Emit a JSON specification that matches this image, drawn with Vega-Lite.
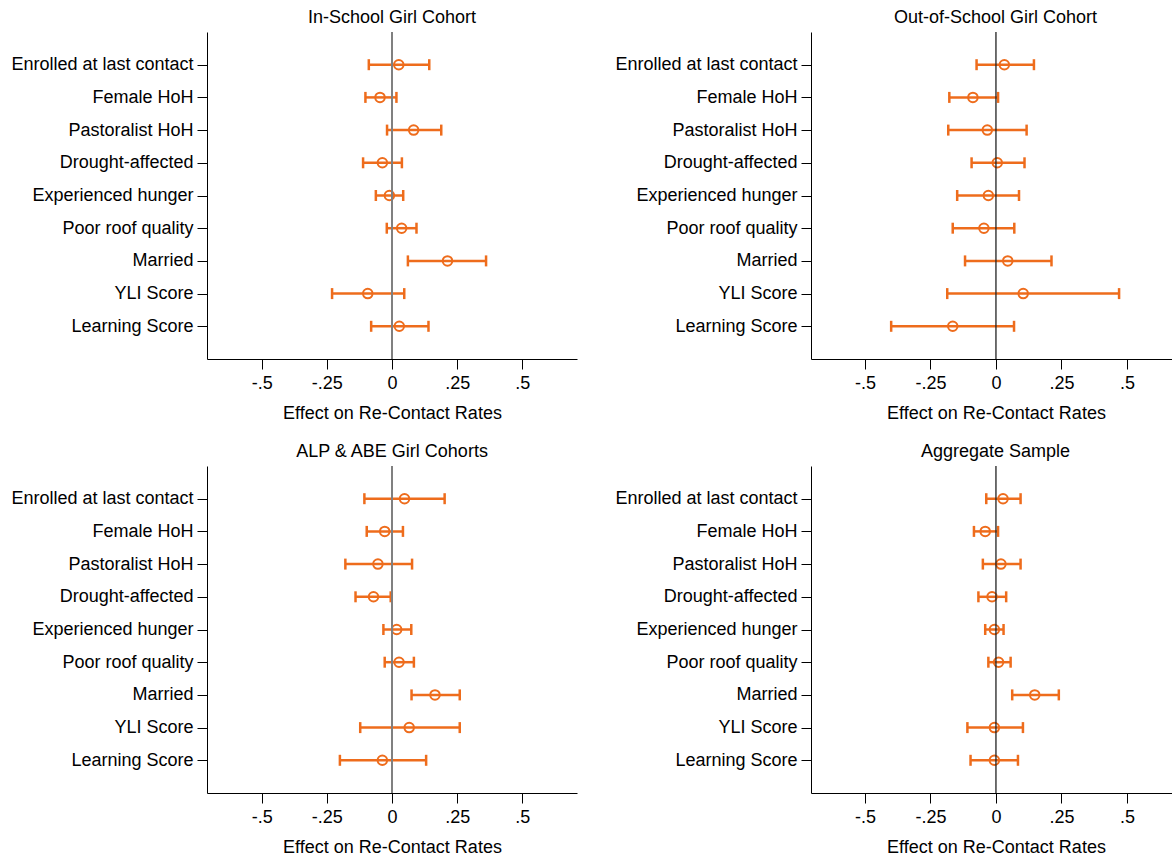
{
  "$schema": "https://vega.github.io/schema/vega-lite/v6.json",
  "background": "white",
  "padding": {"left": 10, "top": 9, "right": 0, "bottom": 0},
  "autosize": {"type": "pad"},
  "config": {
    "view": {"stroke": null},
    "font": "Liberation Sans",
    "axis": {
      "grid": false,
      "domainColor": "#000",
      "domainWidth": 1,
      "tickColor": "#000",
      "tickWidth": 1,
      "tickSize": 10,
      "labelFont": "Liberation Sans",
      "labelFontSize": 18,
      "labelColor": "#000",
      "labelLimit": 0,
      "titleFont": "Liberation Sans",
      "titleFontSize": 18,
      "titleFontWeight": "normal",
      "titleColor": "#000"
    },
    "axisX": {"labelPadding": 5, "titlePadding": 12},
    "axisY": {"labelPadding": 4},
    "title": {
      "font": "Liberation Sans",
      "fontSize": 18,
      "fontWeight": "normal",
      "color": "#000",
      "offset": 4,
      "baseline": "alphabetic",
      "anchor": "middle"
    }
  },
  "datasets": {
    "p1": [
      {"var": "Enrolled at last contact", "lo": -0.089, "est": 0.026, "hi": 0.143},
      {"var": "Female HoH", "lo": -0.102, "est": -0.046, "hi": 0.017},
      {"var": "Pastoralist HoH", "lo": -0.019, "est": 0.083, "hi": 0.189},
      {"var": "Drought-affected", "lo": -0.111, "est": -0.037, "hi": 0.038},
      {"var": "Experienced hunger", "lo": -0.062, "est": -0.010, "hi": 0.043},
      {"var": "Poor roof quality", "lo": -0.020, "est": 0.037, "hi": 0.094},
      {"var": "Married", "lo": 0.061, "est": 0.213, "hi": 0.361},
      {"var": "YLI Score", "lo": -0.230, "est": -0.093, "hi": 0.047},
      {"var": "Learning Score", "lo": -0.080, "est": 0.028, "hi": 0.140}
    ],
    "p2": [
      {"var": "Enrolled at last contact", "lo": -0.074, "est": 0.032, "hi": 0.145},
      {"var": "Female HoH", "lo": -0.178, "est": -0.088, "hi": 0.008},
      {"var": "Pastoralist HoH", "lo": -0.182, "est": -0.033, "hi": 0.117},
      {"var": "Drought-affected", "lo": -0.093, "est": 0.005, "hi": 0.109},
      {"var": "Experienced hunger", "lo": -0.148, "est": -0.029, "hi": 0.088},
      {"var": "Poor roof quality", "lo": -0.165, "est": -0.046, "hi": 0.070},
      {"var": "Married", "lo": -0.118, "est": 0.045, "hi": 0.212},
      {"var": "YLI Score", "lo": -0.186, "est": 0.104, "hi": 0.47},
      {"var": "Learning Score", "lo": -0.400, "est": -0.165, "hi": 0.069}
    ],
    "p3": [
      {"var": "Enrolled at last contact", "lo": -0.106, "est": 0.048, "hi": 0.202},
      {"var": "Female HoH", "lo": -0.097, "est": -0.028, "hi": 0.042},
      {"var": "Pastoralist HoH", "lo": -0.179, "est": -0.054, "hi": 0.077},
      {"var": "Drought-affected", "lo": -0.140, "est": -0.071, "hi": -0.005},
      {"var": "Experienced hunger", "lo": -0.033, "est": 0.018, "hi": 0.074},
      {"var": "Poor roof quality", "lo": -0.028, "est": 0.027, "hi": 0.084},
      {"var": "Married", "lo": 0.075, "est": 0.165, "hi": 0.260},
      {"var": "YLI Score", "lo": -0.122, "est": 0.066, "hi": 0.260},
      {"var": "Learning Score", "lo": -0.200, "est": -0.037, "hi": 0.131}
    ],
    "p4": [
      {"var": "Enrolled at last contact", "lo": -0.037, "est": 0.027, "hi": 0.094},
      {"var": "Female HoH", "lo": -0.084, "est": -0.041, "hi": 0.008},
      {"var": "Pastoralist HoH", "lo": -0.050, "est": 0.019, "hi": 0.094},
      {"var": "Drought-affected", "lo": -0.067, "est": -0.015, "hi": 0.039},
      {"var": "Experienced hunger", "lo": -0.041, "est": -0.006, "hi": 0.029},
      {"var": "Poor roof quality", "lo": -0.029, "est": 0.010, "hi": 0.056},
      {"var": "Married", "lo": 0.062, "est": 0.148, "hi": 0.240},
      {"var": "YLI Score", "lo": -0.109, "est": -0.006, "hi": 0.103},
      {"var": "Learning Score", "lo": -0.097, "est": -0.006, "hi": 0.084}
    ]
  },
  "columns": 2,
  "bounds": "flush",
  "spacing": {"row": 107, "column": 234},
  "concat": [
    {
      "width": 370, "height": 327,
      "title": {"text": "In-School Girl Cohort"},
      "layer": [
        {
          "data": {"name": "p1"},
          "encoding": {
            "y": {"field": "var", "type": "nominal", "sort": ["Enrolled at last contact","Female HoH","Pastoralist HoH","Drought-affected","Experienced hunger","Poor roof quality","Married","YLI Score","Learning Score"], "scale": {"type": "point", "padding": 1}, "axis": {"title": null}}
          },
          "layer": [
            {"mark": {"type": "rule", "strokeWidth": 2.5, "color": "#EE6C1C"},
             "encoding": {"x": {"field": "lo", "type": "quantitative", "title": "Effect on Re-Contact Rates", "scale": {"domain": [-0.71, 0.71], "nice": false, "zero": false}, "axis": {"values": [-0.5, -0.25, 0, 0.25, 0.5], "labelExpr": "datum.value == -0.5 ? '-.5' : datum.value == -0.25 ? '-.25' : datum.value == 0 ? '0' : datum.value == 0.25 ? '.25' : '.5'"}}, "x2": {"field": "hi"}}},
            {"mark": {"type": "tick", "orient": "vertical", "size": 11, "thickness": 2.5, "color": "#EE6C1C", "opacity": 1},
             "encoding": {"x": {"field": "lo", "type": "quantitative", "title": "Effect on Re-Contact Rates"}}},
            {"mark": {"type": "tick", "orient": "vertical", "size": 11, "thickness": 2.5, "color": "#EE6C1C", "opacity": 1},
             "encoding": {"x": {"field": "hi", "type": "quantitative", "title": "Effect on Re-Contact Rates"}}},
            {"mark": {"type": "point", "shape": "circle", "filled": false, "size": 90, "strokeWidth": 2, "color": "#EE6C1C", "opacity": 1},
             "encoding": {"x": {"field": "est", "type": "quantitative", "title": "Effect on Re-Contact Rates"}}}
          ]
        },
        {
          "data": {"values": [{"z": 0}]},
          "mark": {"type": "rule", "color": "#808080", "strokeWidth": 2},
          "encoding": {"x": {"datum": 0, "type": "quantitative", "title": "Effect on Re-Contact Rates"}}
        }
      ]
    },
    {
      "width": 361, "height": 327,
      "title": {"text": "Out-of-School Girl Cohort", "dx": 4},
      "layer": [
        {
          "data": {"name": "p2"},
          "encoding": {
            "y": {"field": "var", "type": "nominal", "sort": ["Enrolled at last contact","Female HoH","Pastoralist HoH","Drought-affected","Experienced hunger","Poor roof quality","Married","YLI Score","Learning Score"], "scale": {"type": "point", "padding": 1}, "axis": {"title": null}}
          },
          "layer": [
            {"mark": {"type": "rule", "strokeWidth": 2.5, "color": "#EE6C1C"},
             "encoding": {"x": {"field": "lo", "type": "quantitative", "title": "Effect on Re-Contact Rates", "scale": {"domain": [-0.706, 0.672], "nice": false, "zero": false}, "axis": {"values": [-0.5, -0.25, 0, 0.25, 0.5], "titleX": 185, "labelExpr": "datum.value == -0.5 ? '-.5' : datum.value == -0.25 ? '-.25' : datum.value == 0 ? '0' : datum.value == 0.25 ? '.25' : '.5'"}}, "x2": {"field": "hi"}}},
            {"mark": {"type": "tick", "orient": "vertical", "size": 11, "thickness": 2.5, "color": "#EE6C1C", "opacity": 1},
             "encoding": {"x": {"field": "lo", "type": "quantitative", "title": "Effect on Re-Contact Rates"}}},
            {"mark": {"type": "tick", "orient": "vertical", "size": 11, "thickness": 2.5, "color": "#EE6C1C", "opacity": 1},
             "encoding": {"x": {"field": "hi", "type": "quantitative", "title": "Effect on Re-Contact Rates"}}},
            {"mark": {"type": "point", "shape": "circle", "filled": false, "size": 90, "strokeWidth": 2, "color": "#EE6C1C", "opacity": 1},
             "encoding": {"x": {"field": "est", "type": "quantitative", "title": "Effect on Re-Contact Rates"}}}
          ]
        },
        {
          "data": {"values": [{"z": 0}]},
          "mark": {"type": "rule", "color": "#222222", "strokeWidth": 1.3},
          "encoding": {"x": {"datum": 0, "type": "quantitative", "title": "Effect on Re-Contact Rates"}}
        }
      ]
    },
    {
      "width": 370, "height": 327,
      "title": {"text": "ALP & ABE Girl Cohorts"},
      "layer": [
        {
          "data": {"name": "p3"},
          "encoding": {
            "y": {"field": "var", "type": "nominal", "sort": ["Enrolled at last contact","Female HoH","Pastoralist HoH","Drought-affected","Experienced hunger","Poor roof quality","Married","YLI Score","Learning Score"], "scale": {"type": "point", "padding": 1}, "axis": {"title": null}}
          },
          "layer": [
            {"mark": {"type": "rule", "strokeWidth": 2.5, "color": "#EE6C1C"},
             "encoding": {"x": {"field": "lo", "type": "quantitative", "title": "Effect on Re-Contact Rates", "scale": {"domain": [-0.71, 0.71], "nice": false, "zero": false}, "axis": {"values": [-0.5, -0.25, 0, 0.25, 0.5], "labelExpr": "datum.value == -0.5 ? '-.5' : datum.value == -0.25 ? '-.25' : datum.value == 0 ? '0' : datum.value == 0.25 ? '.25' : '.5'"}}, "x2": {"field": "hi"}}},
            {"mark": {"type": "tick", "orient": "vertical", "size": 11, "thickness": 2.5, "color": "#EE6C1C", "opacity": 1},
             "encoding": {"x": {"field": "lo", "type": "quantitative", "title": "Effect on Re-Contact Rates"}}},
            {"mark": {"type": "tick", "orient": "vertical", "size": 11, "thickness": 2.5, "color": "#EE6C1C", "opacity": 1},
             "encoding": {"x": {"field": "hi", "type": "quantitative", "title": "Effect on Re-Contact Rates"}}},
            {"mark": {"type": "point", "shape": "circle", "filled": false, "size": 90, "strokeWidth": 2, "color": "#EE6C1C", "opacity": 1},
             "encoding": {"x": {"field": "est", "type": "quantitative", "title": "Effect on Re-Contact Rates"}}}
          ]
        },
        {
          "data": {"values": [{"z": 0}]},
          "mark": {"type": "rule", "color": "#808080", "strokeWidth": 2},
          "encoding": {"x": {"datum": 0, "type": "quantitative", "title": "Effect on Re-Contact Rates"}}
        }
      ]
    },
    {
      "width": 361, "height": 327,
      "title": {"text": "Aggregate Sample", "dx": 4},
      "layer": [
        {
          "data": {"name": "p4"},
          "encoding": {
            "y": {"field": "var", "type": "nominal", "sort": ["Enrolled at last contact","Female HoH","Pastoralist HoH","Drought-affected","Experienced hunger","Poor roof quality","Married","YLI Score","Learning Score"], "scale": {"type": "point", "padding": 1}, "axis": {"title": null}}
          },
          "layer": [
            {"mark": {"type": "rule", "strokeWidth": 2.5, "color": "#EE6C1C"},
             "encoding": {"x": {"field": "lo", "type": "quantitative", "title": "Effect on Re-Contact Rates", "scale": {"domain": [-0.706, 0.672], "nice": false, "zero": false}, "axis": {"values": [-0.5, -0.25, 0, 0.25, 0.5], "titleX": 185, "labelExpr": "datum.value == -0.5 ? '-.5' : datum.value == -0.25 ? '-.25' : datum.value == 0 ? '0' : datum.value == 0.25 ? '.25' : '.5'"}}, "x2": {"field": "hi"}}},
            {"mark": {"type": "tick", "orient": "vertical", "size": 11, "thickness": 2.5, "color": "#EE6C1C", "opacity": 1},
             "encoding": {"x": {"field": "lo", "type": "quantitative", "title": "Effect on Re-Contact Rates"}}},
            {"mark": {"type": "tick", "orient": "vertical", "size": 11, "thickness": 2.5, "color": "#EE6C1C", "opacity": 1},
             "encoding": {"x": {"field": "hi", "type": "quantitative", "title": "Effect on Re-Contact Rates"}}},
            {"mark": {"type": "point", "shape": "circle", "filled": false, "size": 90, "strokeWidth": 2, "color": "#EE6C1C", "opacity": 1},
             "encoding": {"x": {"field": "est", "type": "quantitative", "title": "Effect on Re-Contact Rates"}}}
          ]
        },
        {
          "data": {"values": [{"z": 0}]},
          "mark": {"type": "rule", "color": "#222222", "strokeWidth": 1.3},
          "encoding": {"x": {"datum": 0, "type": "quantitative", "title": "Effect on Re-Contact Rates"}}
        }
      ]
    }
  ]
}
